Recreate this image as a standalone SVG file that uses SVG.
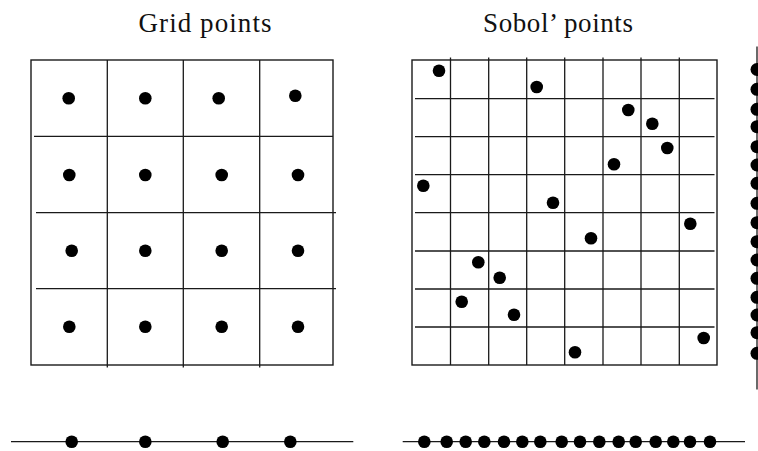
<svg xmlns="http://www.w3.org/2000/svg" width="758" height="451" viewBox="0 0 758 451">
<style>
.ln{stroke:#1a1a1a;stroke-width:1.3;fill:none}
.bx{stroke:#1a1a1a;stroke-width:1.4;fill:none}
.dot{fill:#000}
.t{font-family:"Liberation Serif","DejaVu Serif",serif;font-size:27px;fill:#111}
</style>
<rect width="758" height="451" fill="#fff"/>
<text class="t" x="205" y="32" text-anchor="middle" textLength="133">Grid points</text>
<text class="t" x="558" y="32" text-anchor="middle" textLength="150">Sobol’ points</text>
<g id="grid-plot">
<rect class="bx" x="31" y="60" width="302" height="305"/>
<path class="ln" d="M107.3 60V367.5M183.3 60V367.5M259.7 60V367.5M34 136.3H333M36 212.7H336M36 288.7H336"/>
<g class="dot">
<circle cx="68.7" cy="98.3" r="6.3"/><circle cx="145.3" cy="98.3" r="6.3"/><circle cx="218.7" cy="98.3" r="6.3"/><circle cx="295.3" cy="95.7" r="6.3"/>
<circle cx="69.3" cy="175" r="6.3"/><circle cx="145.3" cy="175" r="6.3"/><circle cx="221.7" cy="175" r="6.3"/><circle cx="298" cy="175" r="6.3"/>
<circle cx="71.7" cy="250.7" r="6.3"/><circle cx="145.3" cy="250.7" r="6.3"/><circle cx="221.7" cy="250.7" r="6.3"/><circle cx="298" cy="250.7" r="6.3"/>
<circle cx="69.3" cy="326.7" r="6.3"/><circle cx="145.3" cy="326.7" r="6.3"/><circle cx="221.7" cy="326.7" r="6.3"/><circle cx="298" cy="326.7" r="6.3"/>
</g>
</g>
<g id="sobol-plot">
<rect class="bx" x="412" y="60" width="305" height="305"/>
<path class="ln" d="M450.5 57.5V365M488.7 57.5V365M526.7 57.5V365M564.7 57.5V365M603 57.5V365M641 57.5V365M679.3 57.5V365M415 98.7H714.5M415 136.7H714.5M415 174.7H714.5M415 212.7H714.5M415 251H714.5M415 289H714.5M415 327H714.5"/>
<g class="dot">
<circle cx="439" cy="70.7" r="6.3"/><circle cx="536.7" cy="87" r="6.3"/><circle cx="628.3" cy="110" r="6.3"/><circle cx="652.3" cy="123.7" r="6.3"/>
<circle cx="667.3" cy="148" r="6.3"/><circle cx="614" cy="164.3" r="6.3"/><circle cx="423.3" cy="185.7" r="6.3"/><circle cx="553" cy="202.7" r="6.3"/>
<circle cx="690.3" cy="223.7" r="6.3"/><circle cx="591" cy="238.3" r="6.3"/><circle cx="478.3" cy="262.3" r="6.3"/><circle cx="499.7" cy="277.7" r="6.3"/>
<circle cx="461.7" cy="301.7" r="6.3"/><circle cx="514" cy="314.7" r="6.3"/><circle cx="703.7" cy="338" r="6.3"/><circle cx="575" cy="352.3" r="6.3"/>
</g>
</g>
<g id="sobol-y-projection">
<path class="ln" d="M757 46.5V389.5"/>
<g class="dot">
<circle cx="757" cy="69.5" r="6.5"/><circle cx="757" cy="89.3" r="6.5"/><circle cx="757" cy="109.3" r="6.5"/><circle cx="757" cy="126.7" r="6.5"/>
<circle cx="757" cy="146.7" r="6.5"/><circle cx="757" cy="165" r="6.5"/><circle cx="757" cy="183.3" r="6.5"/><circle cx="757" cy="203.3" r="6.5"/>
<circle cx="757" cy="222.7" r="6.5"/><circle cx="757" cy="241.7" r="6.5"/><circle cx="757" cy="260" r="6.5"/><circle cx="757" cy="278.3" r="6.5"/>
<circle cx="757" cy="297.3" r="6.5"/><circle cx="757" cy="315" r="6.5"/><circle cx="757" cy="332.7" r="6.5"/><circle cx="757" cy="353.3" r="6.5"/>
</g>
</g>
<g id="grid-x-projection">
<path class="ln" d="M11 441.7H353.3"/>
<g class="dot">
<circle cx="71.7" cy="441.7" r="6.3"/><circle cx="145.3" cy="441.7" r="6.3"/><circle cx="222.7" cy="441.7" r="6.3"/><circle cx="290.3" cy="441.7" r="6.3"/>
</g>
</g>
<g id="sobol-x-projection">
<path class="ln" d="M402.7 441.7H745"/>
<g class="dot">
<circle cx="424.3" cy="441.7" r="6.3"/><circle cx="446.7" cy="441.7" r="6.3"/><circle cx="465.7" cy="441.7" r="6.3"/><circle cx="484.3" cy="441.7" r="6.3"/>
<circle cx="504" cy="441.7" r="6.3"/><circle cx="522.3" cy="441.7" r="6.3"/><circle cx="540.3" cy="441.7" r="6.3"/><circle cx="561.7" cy="441.7" r="6.3"/>
<circle cx="580" cy="441.7" r="6.3"/><circle cx="599.3" cy="441.7" r="6.3"/><circle cx="618.7" cy="441.7" r="6.3"/><circle cx="635.7" cy="441.7" r="6.3"/>
<circle cx="655.7" cy="441.7" r="6.3"/><circle cx="673.3" cy="441.7" r="6.3"/><circle cx="690" cy="441.7" r="6.3"/><circle cx="710" cy="441.7" r="6.3"/>
</g>
</g>
</svg>
